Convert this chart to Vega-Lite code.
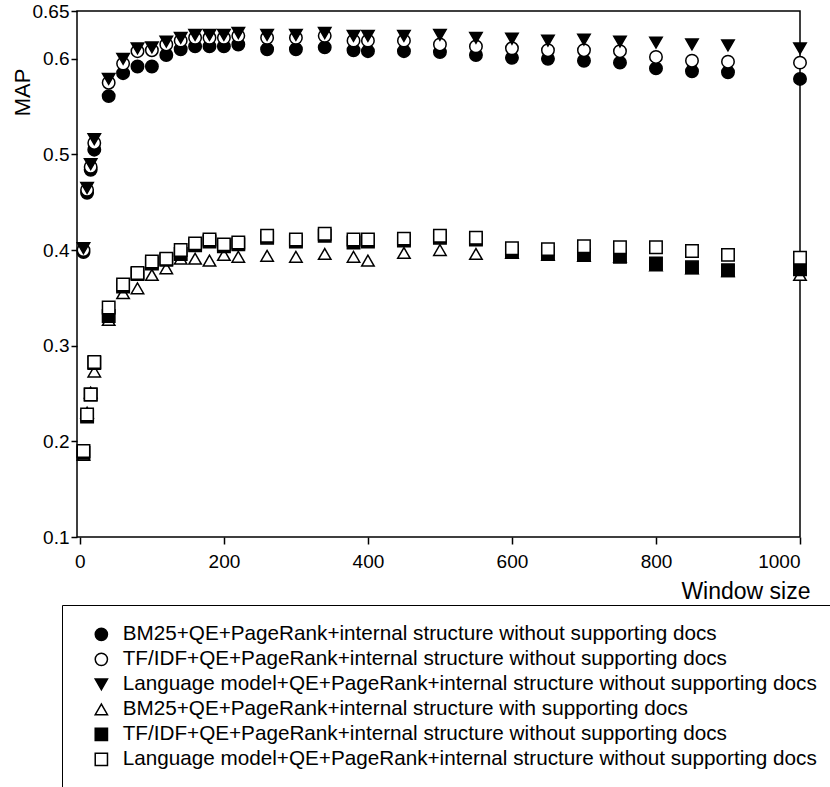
{
  "$schema": "https://vega.github.io/schema/vega-lite/v6.json",
  "width": 723,
  "height": 526,
  "autosize": {"type": "none"},
  "padding": {"left": 77, "top": 11, "right": 30, "bottom": 250},
  "background": "white",
  "config": {
    "font": "Liberation Sans",
    "view": {"stroke": "black", "strokeWidth": 1.5},
    "axis": {"grid": false, "domain": false, "tickColor": "black", "tickWidth": 1.5, "labelColor": "black", "titleColor": "black", "titleFontWeight": "normal", "labelFont": "Liberation Sans", "titleFont": "Liberation Sans"}
  },
  "data": {"values": [
    {"s":"A","w":5,"m":0.398},{"s":"A","w":10,"m":0.460},{"s":"A","w":15,"m":0.484},{"s":"A","w":20,"m":0.505},{"s":"A","w":40,"m":0.561},{"s":"A","w":60,"m":0.585},{"s":"A","w":80,"m":0.592},{"s":"A","w":100,"m":0.592},{"s":"A","w":120,"m":0.604},{"s":"A","w":140,"m":0.610},{"s":"A","w":160,"m":0.613},{"s":"A","w":180,"m":0.613},{"s":"A","w":200,"m":0.613},{"s":"A","w":220,"m":0.615},{"s":"A","w":260,"m":0.610},{"s":"A","w":300,"m":0.610},{"s":"A","w":340,"m":0.612},{"s":"A","w":380,"m":0.609},{"s":"A","w":400,"m":0.608},{"s":"A","w":450,"m":0.608},{"s":"A","w":500,"m":0.607},{"s":"A","w":550,"m":0.604},{"s":"A","w":600,"m":0.601},{"s":"A","w":650,"m":0.600},{"s":"A","w":700,"m":0.598},{"s":"A","w":750,"m":0.596},{"s":"A","w":800,"m":0.590},{"s":"A","w":850,"m":0.587},{"s":"A","w":900,"m":0.586},{"s":"A","w":1000,"m":0.579},
    {"s":"B","w":5,"m":0.400},{"s":"B","w":10,"m":0.463},{"s":"B","w":15,"m":0.487},{"s":"B","w":20,"m":0.512},{"s":"B","w":40,"m":0.575},{"s":"B","w":60,"m":0.595},{"s":"B","w":80,"m":0.608},{"s":"B","w":100,"m":0.609},{"s":"B","w":120,"m":0.615},{"s":"B","w":140,"m":0.619},{"s":"B","w":160,"m":0.622},{"s":"B","w":180,"m":0.622},{"s":"B","w":200,"m":0.622},{"s":"B","w":220,"m":0.624},{"s":"B","w":260,"m":0.622},{"s":"B","w":300,"m":0.622},{"s":"B","w":340,"m":0.624},{"s":"B","w":380,"m":0.619},{"s":"B","w":400,"m":0.619},{"s":"B","w":450,"m":0.619},{"s":"B","w":500,"m":0.615},{"s":"B","w":550,"m":0.613},{"s":"B","w":600,"m":0.611},{"s":"B","w":650,"m":0.609},{"s":"B","w":700,"m":0.609},{"s":"B","w":750,"m":0.608},{"s":"B","w":800,"m":0.602},{"s":"B","w":850,"m":0.598},{"s":"B","w":900,"m":0.597},{"s":"B","w":1000,"m":0.596},
    {"s":"C","w":5,"m":0.402},{"s":"C","w":10,"m":0.465},{"s":"C","w":15,"m":0.490},{"s":"C","w":20,"m":0.516},{"s":"C","w":40,"m":0.579},{"s":"C","w":60,"m":0.600},{"s":"C","w":80,"m":0.611},{"s":"C","w":100,"m":0.612},{"s":"C","w":120,"m":0.618},{"s":"C","w":140,"m":0.622},{"s":"C","w":160,"m":0.625},{"s":"C","w":180,"m":0.625},{"s":"C","w":200,"m":0.625},{"s":"C","w":220,"m":0.627},{"s":"C","w":260,"m":0.625},{"s":"C","w":300,"m":0.625},{"s":"C","w":340,"m":0.627},{"s":"C","w":380,"m":0.624},{"s":"C","w":400,"m":0.624},{"s":"C","w":450,"m":0.624},{"s":"C","w":500,"m":0.625},{"s":"C","w":550,"m":0.622},{"s":"C","w":600,"m":0.621},{"s":"C","w":650,"m":0.619},{"s":"C","w":700,"m":0.620},{"s":"C","w":750,"m":0.618},{"s":"C","w":800,"m":0.617},{"s":"C","w":850,"m":0.615},{"s":"C","w":900,"m":0.614},{"s":"C","w":1000,"m":0.611},
    {"s":"D","w":5,"m":0.186},{"s":"D","w":10,"m":0.230},{"s":"D","w":15,"m":0.251},{"s":"D","w":20,"m":0.273},{"s":"D","w":40,"m":0.327},{"s":"D","w":60,"m":0.355},{"s":"D","w":80,"m":0.360},{"s":"D","w":100,"m":0.374},{"s":"D","w":120,"m":0.381},{"s":"D","w":140,"m":0.391},{"s":"D","w":160,"m":0.391},{"s":"D","w":180,"m":0.389},{"s":"D","w":200,"m":0.395},{"s":"D","w":220,"m":0.393},{"s":"D","w":260,"m":0.394},{"s":"D","w":300,"m":0.393},{"s":"D","w":340,"m":0.396},{"s":"D","w":380,"m":0.393},{"s":"D","w":400,"m":0.389},{"s":"D","w":450,"m":0.397},{"s":"D","w":500,"m":0.400},{"s":"D","w":550,"m":0.396},{"s":"D","w":600,"m":0.397},{"s":"D","w":650,"m":0.395},{"s":"D","w":700,"m":0.394},{"s":"D","w":750,"m":0.393},{"s":"D","w":800,"m":0.384},{"s":"D","w":850,"m":0.381},{"s":"D","w":900,"m":0.378},{"s":"D","w":1000,"m":0.374},
    {"s":"E","w":5,"m":0.188},{"s":"E","w":10,"m":0.226},{"s":"E","w":15,"m":0.249},{"s":"E","w":20,"m":0.282},{"s":"E","w":40,"m":0.331},{"s":"E","w":60,"m":0.362},{"s":"E","w":80,"m":0.375},{"s":"E","w":100,"m":0.386},{"s":"E","w":120,"m":0.390},{"s":"E","w":140,"m":0.396},{"s":"E","w":160,"m":0.405},{"s":"E","w":180,"m":0.409},{"s":"E","w":200,"m":0.404},{"s":"E","w":220,"m":0.406},{"s":"E","w":260,"m":0.413},{"s":"E","w":300,"m":0.409},{"s":"E","w":340,"m":0.415},{"s":"E","w":380,"m":0.408},{"s":"E","w":400,"m":0.409},{"s":"E","w":450,"m":0.410},{"s":"E","w":500,"m":0.413},{"s":"E","w":550,"m":0.411},{"s":"E","w":600,"m":0.399},{"s":"E","w":650,"m":0.397},{"s":"E","w":700,"m":0.395},{"s":"E","w":750,"m":0.393},{"s":"E","w":800,"m":0.386},{"s":"E","w":850,"m":0.382},{"s":"E","w":900,"m":0.379},{"s":"E","w":1000,"m":0.380},
    {"s":"F","w":5,"m":0.190},{"s":"F","w":10,"m":0.228},{"s":"F","w":15,"m":0.249},{"s":"F","w":20,"m":0.283},{"s":"F","w":40,"m":0.340},{"s":"F","w":60,"m":0.364},{"s":"F","w":80,"m":0.376},{"s":"F","w":100,"m":0.388},{"s":"F","w":120,"m":0.391},{"s":"F","w":140,"m":0.400},{"s":"F","w":160,"m":0.407},{"s":"F","w":180,"m":0.411},{"s":"F","w":200,"m":0.406},{"s":"F","w":220,"m":0.408},{"s":"F","w":260,"m":0.415},{"s":"F","w":300,"m":0.411},{"s":"F","w":340,"m":0.417},{"s":"F","w":380,"m":0.411},{"s":"F","w":400,"m":0.411},{"s":"F","w":450,"m":0.412},{"s":"F","w":500,"m":0.415},{"s":"F","w":550,"m":0.413},{"s":"F","w":600,"m":0.402},{"s":"F","w":650,"m":0.401},{"s":"F","w":700,"m":0.404},{"s":"F","w":750,"m":0.403},{"s":"F","w":800,"m":0.403},{"s":"F","w":850,"m":0.399},{"s":"F","w":900,"m":0.395},{"s":"F","w":1000,"m":0.392}
  ]},
  "mark": {"type": "point", "filled": true, "strokeWidth": 1.5, "size": 155, "opacity": 1},
  "encoding": {
    "x": {"field": "w", "type": "quantitative", "scale": {"domain": [-4, 1000], "nice": false, "zero": false},
      "axis": {"values": [0,200,400,600,800,1000], "format": "d", "title": "Window size", "labelFontSize": 19, "tickSize": 7, "labelPadding": 8, "titleFontSize": 23, "titleAnchor": "end", "titleAlign": "right", "titleBaseline": "alphabetic", "titleX": 733, "titleY": 61}},
    "y": {"field": "m", "type": "quantitative", "scale": {"domain": [0.1, 0.65], "nice": false, "zero": false},
      "axis": {"values": [0.1,0.2,0.3,0.4,0.5,0.6,0.65], "format": ".2~f", "title": "MAP", "labelFontSize": 19, "tickSize": 6, "labelPadding": 2, "titleFontSize": 22, "titleAngle": -90, "titleAlign": "center", "titleBaseline": "middle", "titleX": -55, "titleY": 81}},
    "shape": {"field": "s", "type": "nominal", "title": null, "scale": {"domain": ["A","B","C","D","E","F"], "range": ["circle","circle","triangle-down","triangle-up","square","square"]},
      "legend": {"title": null, "orient": "none", "legendX": -15, "legendY": 594, "strokeColor": "black", "padding": 19, "symbolOffset": 10, "symbolSize": 150, "symbolStrokeWidth": 1.5, "labelFontSize": 20.7, "labelColor": "black", "labelOffset": 11, "rowPadding": 3, "labelLimit": 1000,
        "labelExpr": "datum.value == 'A' ? 'BM25+QE+PageRank+internal structure without supporting docs' : datum.value == 'B' ? 'TF/IDF+QE+PageRank+internal structure without supporting docs' : datum.value == 'C' ? 'Language model+QE+PageRank+internal structure without supporting docs' : datum.value == 'D' ? 'BM25+QE+PageRank+internal structure with supporting docs' : datum.value == 'E' ? 'TF/IDF+QE+PageRank+internal structure without supporting docs' : 'Language model+QE+PageRank+internal structure without supporting docs'"}},
    "fill": {"field": "s", "type": "nominal", "title": null, "scale": {"domain": ["A","B","C","D","E","F"], "range": ["black","white","black","white","black","white"]}},
    "stroke": {"field": "s", "type": "nominal", "title": null, "scale": {"domain": ["A","B","C","D","E","F"], "range": ["black","black","black","black","black","black"]}}
  }
}
